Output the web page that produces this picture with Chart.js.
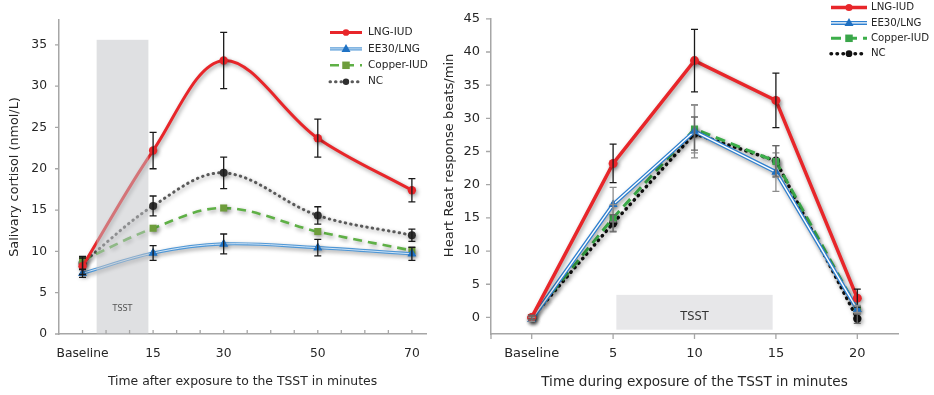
<!DOCTYPE html>
<html>
<head>
<meta charset="utf-8">
<script src="https://cdn.jsdelivr.net/npm/chart.js@4.4.1/dist/chart.umd.min.js"></script>
<style>
  html, body { margin: 0; padding: 0; background: #fff; width: 934px; height: 395px; overflow: hidden; }
  #cortisolBox { position: absolute; left: 0; top: 0; width: 440px; height: 395px; }
  #heartBox { position: absolute; left: 436px; top: 0; width: 498px; height: 395px; }
</style>
</head>
<body>
<div id="cortisolBox"><canvas id="cortisol"></canvas></div>
<div id="heartBox"><canvas id="heart"></canvas></div>
<script>
// ---- Salivary cortisol (nmol/L) after the TSST ----
const cortisolMinutes = [0, 15, 30, 50, 70];
const cortisolTickValues = [0, 5, 10, 15, 20, 25, 30, 35, 40, 45, 50, 55, 60, 65, 70];
const cortisolTickLabels = { 0: 'Baseline', 15: '15', 30: '30', 50: '50', 70: '70' };
const cortisolYTicks = [0, 5, 10, 15, 20, 25, 30, 35];
const cortisolLNG = [8.2, 22.2, 33.1, 23.7, 17.4];
const cortisolLNGErr = [1.0, 2.2, 3.4, 2.3, 1.4];
const cortisolEE30 = [7.35, 9.8, 10.9, 10.45, 9.7];
const cortisolEE30Err = [0.5, 0.9, 1.2, 1.0, 0.8];
const cortisolCopper = [8.9, 12.8, 15.25, 12.4, 10.1];
const cortisolNC = [8.6, 15.5, 19.5, 14.35, 11.95];
const cortisolNCErr = [0.8, 1.2, 1.9, 1.05, 0.75];
const cortisolTSSTMinutes = [3, 14];
const cortisolTSSTLevel = [0, 35.6];

// ---- Heart rate response (beats/min) during the TSST ----
const heartMinutes = [0, 5, 10, 15, 20];
const heartTickLabels = { 0: 'Baseline', 5: '5', 10: '10', 15: '15', 20: '20' };
const heartYTicks = [0, 5, 10, 15, 20, 25, 30, 35, 40, 45];
const heartLNG = [0, 23.2, 38.7, 32.7, 2.9];
const heartLNGErr = [0.3, 2.9, 4.7, 4.1, 1.35];
const heartEE30 = [-0.3, 17.0, 28.05, 21.9, 1.2];
const heartEE30Err = [0.3, 2.6, 4.0, 2.9, 0.6];
const heartCopper = [0, 15.0, 28.4, 23.5, 1.25];
const heartCopperErr = [0.3, 2.0, 3.6, 2.4, 0.5];
const heartNC = [-0.05, 14.2, 27.7, 23.6, -0.2];
const heartNCErr = [0.3, 1.3, 2.5, 2.3, 0.7];
const heartTSSTMinutes = [5.2, 14.8];
const heartTSSTLevel = [-1.85, 3.4];

const FONT = "'DejaVu Sans', sans-serif";
const AXIS = '#a6a6a6';
const TEXT = '#262626';
Chart.defaults.font.family = FONT;
Chart.defaults.color = TEXT;

function points(xs, ys) { return xs.map((x, i) => ({ x, y: ys[i] })); }

function marker(ctx, style, x, y, r) {
  ctx.beginPath();
  if (style === 'triangle') {
    ctx.moveTo(x, y - r); ctx.lineTo(x + r * 0.9, y + r * 0.6); ctx.lineTo(x - r * 0.9, y + r * 0.6); ctx.closePath();
  } else if (style === 'rect') {
    const s = r * 0.75; ctx.rect(x - s, y - s, 2 * s, 2 * s);
  } else {
    ctx.arc(x, y, r * 0.8, 0, Math.PI * 2);
  }
  ctx.fill();
}

function drawBand(chart, b) {
  const { ctx, scales: { x, y } } = chart;
  const x0 = x.getPixelForValue(b.x[0]), x1 = x.getPixelForValue(b.x[1]);
  const y0 = y.getPixelForValue(b.y[1]), y1 = y.getPixelForValue(b.y[0]);
  ctx.save();
  ctx.fillStyle = b.color;
  ctx.fillRect(x0, y0, x1 - x0, y1 - y0);
  ctx.fillStyle = b.labelColor;
  ctx.font = b.font;
  ctx.textAlign = 'center';
  ctx.textBaseline = 'middle';
  ctx.fillText(b.label, (x0 + x1) / 2, y.getPixelForValue(b.labelY));
  ctx.restore();
}

function drawErrorBars(chart, cap) {
  const { ctx, scales: { y } } = chart;
  chart.data.datasets.forEach((ds, i) => {
    if (!ds.errors) return;
    const meta = chart.getDatasetMeta(i);
    ctx.save();
    ctx.strokeStyle = ds.errorColor;
    ctx.lineWidth = 1.3;
    ctx.beginPath();
    meta.data.forEach((pt, j) => {
      const e = ds.errors[j];
      if (!e) return;
      const v = ds.data[j].y;
      const top = y.getPixelForValue(v + e), bot = y.getPixelForValue(v - e);
      ctx.moveTo(pt.x, top); ctx.lineTo(pt.x, bot);
      ctx.moveTo(pt.x - cap, top); ctx.lineTo(pt.x + cap, top);
      ctx.moveTo(pt.x - cap, bot); ctx.lineTo(pt.x + cap, bot);
    });
    ctx.stroke();
    ctx.restore();
  });
}

function drawAxisMarks(chart, o) {
  const { ctx, chartArea: a, scales: { x, y } } = chart;
  ctx.save();
  ctx.strokeStyle = AXIS;
  ctx.lineWidth = 1.3;
  ctx.beginPath();
  x.ticks.forEach(t => { const px = x.getPixelForValue(t.value); ctx.moveTo(px, a.bottom); ctx.lineTo(px, a.bottom + o.xLen); });
  y.ticks.forEach(t => { const py = y.getPixelForValue(t.value); ctx.moveTo(a.left, py); ctx.lineTo(a.left - o.yLen, py); });
  if (o.extendX) { ctx.moveTo(a.left - o.extendX, a.bottom); ctx.lineTo(a.left, a.bottom); }
  if (o.extendY) { ctx.moveTo(a.left, a.bottom); ctx.lineTo(a.left, a.bottom + o.extendY); }
  ctx.stroke();
  ctx.restore();
}

function drawLegend(chart, L) {
  const ctx = chart.ctx;
  chart.data.datasets.forEach((ds, i) => {
    const y = L.top + i * L.step;
    ctx.save();
    ctx.strokeStyle = ds.borderColor;
    ctx.lineWidth = ds.borderWidth;
    ctx.setLineDash(ds.borderDash || []);
    ctx.lineCap = ds.borderCapStyle || 'butt';
    ctx.beginPath(); ctx.moveTo(L.x, y); ctx.lineTo(L.x + L.w, y); ctx.stroke();
    if (ds.doubleLine) {
      ctx.setLineDash([]);
      ctx.strokeStyle = ds.doubleLine.color;
      ctx.lineWidth = ds.doubleLine.width;
      ctx.beginPath(); ctx.moveTo(L.x, y); ctx.lineTo(L.x + L.w, y); ctx.stroke();
    }
    ctx.setLineDash([]);
    ctx.fillStyle = ds.pointBackgroundColor;
    marker(ctx, ds.pointStyle, L.x + L.w / 2, y, ds.pointRadius);
    ctx.fillStyle = TEXT;
    ctx.font = L.font;
    ctx.textAlign = 'left';
    ctx.textBaseline = 'middle';
    ctx.fillText(ds.label, L.textX, y);
    ctx.restore();
  });
}

// Drop shadow under the series, double-stroke lines, band, error bars, tick marks and legend
const decorPlugin = {
  id: 'decor',
  beforeDatasetsDraw(chart, args, o) {
    if (o.band && o.band.behind) drawBand(chart, o.band);
    const ctx = chart.ctx;
    ctx.save();
    ctx.shadowColor = 'rgba(0,0,0,0.38)';
    ctx.shadowBlur = 4;
    ctx.shadowOffsetX = 1.5;
    ctx.shadowOffsetY = 2;
  },
  afterDatasetDraw(chart, args) {
    const ds = chart.data.datasets[args.index];
    if (!ds.doubleLine) return;
    const ctx = chart.ctx, meta = args.meta;
    ctx.save();
    ctx.shadowColor = 'rgba(0,0,0,0)';
    ctx.beginPath();
    meta.dataset.path(ctx);
    ctx.strokeStyle = ds.doubleLine.color;
    ctx.lineWidth = ds.doubleLine.width;
    ctx.lineJoin = 'round';
    ctx.stroke();
    meta.data.forEach(p => p.draw(ctx, chart.chartArea));
    ctx.restore();
  },
  afterDatasetsDraw(chart, args, o) {
    chart.ctx.restore();
    if (o.band && !o.band.behind) drawBand(chart, o.band);
    drawErrorBars(chart, o.cap);
    drawAxisMarks(chart, o.marks);
    drawLegend(chart, o.legend);
    if (o.sideTitle) {
      const ctx = chart.ctx, a = chart.chartArea, t = o.sideTitle;
      ctx.save();
      ctx.translate(t.x, (a.top + a.bottom) / 2 + t.shift);
      ctx.rotate(-Math.PI / 2);
      ctx.font = t.font;
      ctx.fillStyle = TEXT;
      ctx.textAlign = 'center';
      ctx.textBaseline = 'middle';
      ctx.fillText(t.text, 0, 0);
      ctx.restore();
    }
  }
};

function baseScales(cfg) {
  return {
    x: {
      type: 'linear', min: cfg.xMin, max: cfg.xMax,
      afterBuildTicks: s => { s.ticks = cfg.xTicks.map(v => ({ value: v })); },
      afterFit: s => { s.height = cfg.xHeight; },
      grid: { display: false, drawTicks: false },
      border: { display: true, color: AXIS, width: 1.5 },
      ticks: { autoSkip: false, maxRotation: 0, padding: cfg.xPad, font: { size: cfg.tickSize }, color: TEXT,
               callback: v => cfg.xLabels[v] ?? '' },
      title: { display: true, text: cfg.xTitle, font: { size: cfg.xTitleSize }, color: TEXT, padding: { top: 0, bottom: cfg.xTitlePad } }
    },
    y: {
      min: cfg.yMin, max: cfg.yMax,
      afterBuildTicks: s => { s.ticks = cfg.yTicks.map(v => ({ value: v })); },
      afterFit: s => { s.width = cfg.yWidth; },
      grid: { display: false, drawTicks: false },
      border: { display: true, color: AXIS, width: 1.5 },
      ticks: { padding: cfg.yPad, font: { size: cfg.tickSize }, color: TEXT },
      title: cfg.yTitle ? { display: true, text: cfg.yTitle, font: { size: cfg.yTitleSize }, color: TEXT, padding: { top: cfg.yTitlePad, bottom: 0 } } : { display: false }
    }
  };
}

new Chart(document.getElementById('cortisol'), {
  type: 'line',
  data: {
    datasets: [
      { label: 'LNG-IUD', data: points(cortisolMinutes, cortisolLNG), errors: cortisolLNGErr, errorColor: '#1a1a1a',
        borderColor: '#e8262a', borderWidth: 3, pointStyle: 'circle', pointRadius: 4.2,
        pointBackgroundColor: '#e8262a', pointBorderColor: '#e8262a', pointBorderWidth: 0 },
      { label: 'EE30/LNG', data: points(cortisolMinutes, cortisolEE30), errors: cortisolEE30Err, errorColor: '#1a1a1a',
        borderColor: '#4f97d6', borderWidth: 3.2, doubleLine: { color: 'rgba(255,255,255,0.75)', width: 1 },
        pointStyle: 'triangle', pointRadius: 5, pointBackgroundColor: '#1f72c4', pointBorderColor: '#1f72c4', pointBorderWidth: 0 },
      { label: 'Copper-IUD', data: points(cortisolMinutes, cortisolCopper),
        borderColor: '#5fb046', borderWidth: 2.6, borderDash: [9, 6], pointStyle: 'rect', pointRadius: 5,
        pointBackgroundColor: '#6e9d3c', pointBorderColor: '#6e9d3c', pointBorderWidth: 0 },
      { label: 'NC', data: points(cortisolMinutes, cortisolNC), errors: cortisolNCErr, errorColor: '#1a1a1a',
        borderColor: '#5a5a5a', borderWidth: 3, borderDash: [0.5, 5], borderCapStyle: 'round', pointStyle: 'circle', pointRadius: 4,
        pointBackgroundColor: '#2e2e2e', pointBorderColor: '#2e2e2e', pointBorderWidth: 0 }
    ]
  },
  options: {
    responsive: true, maintainAspectRatio: false, animation: false,
    layout: { padding: { left: 0, right: 14, top: 20, bottom: 0 } },
    elements: { line: { tension: 0.35 } },
    plugins: {
      legend: { display: false }, tooltip: { enabled: false },
      decor: {
        cap: 3.5,
        band: { x: cortisolTSSTMinutes, y: cortisolTSSTLevel, color: 'rgba(192,193,198,0.5)', behind: false,
                label: 'TSST', labelY: 3, font: "8px " + FONT, labelColor: '#555' },
        marks: { xLen: -4, yLen: 4, extendX: 4 },
        legend: { x: 330, w: 32, textX: 368, top: 32.5, step: 16.4, font: "10.5px " + FONT }
      }
    },
    scales: baseScales({
      xMin: -5, xMax: 73, xTicks: cortisolTickValues, xLabels: cortisolTickLabels, xHeight: 61, xPad: 12,
      tickSize: 12.3, xTitle: 'Time after exposure to the TSST in minutes', xTitleSize: 12.4, xTitlePad: 6,
      yMin: 0, yMax: 38, yTicks: cortisolYTicks, yWidth: 59, yPad: 12,
      yTitle: 'Salivary cortisol (nmol/L)', yTitleSize: 12.8, yTitlePad: 7
    })
  },
  plugins: [decorPlugin]
});

new Chart(document.getElementById('heart'), {
  type: 'line',
  data: {
    datasets: [
      { label: 'LNG-IUD', data: points(heartMinutes, heartLNG), errors: heartLNGErr, errorColor: '#1a1a1a',
        borderColor: '#e8262a', borderWidth: 3.5, pointStyle: 'circle', pointRadius: 4.5,
        pointBackgroundColor: '#e8262a', pointBorderColor: '#e8262a', pointBorderWidth: 0 },
      { label: 'EE30/LNG', data: points(heartMinutes, heartEE30), errors: heartEE30Err, errorColor: '#8c8c8c',
        borderColor: '#2f80d0', borderWidth: 4, doubleLine: { color: '#ffffff', width: 1.4 },
        pointStyle: 'triangle', pointRadius: 5, pointBackgroundColor: '#1f6fc0', pointBorderColor: '#1f6fc0', pointBorderWidth: 0 },
      { label: 'Copper-IUD', data: points(heartMinutes, heartCopper), errors: heartCopperErr, errorColor: '#8c8c8c',
        borderColor: '#3cae4a', borderWidth: 3, borderDash: [10, 6], pointStyle: 'rect', pointRadius: 5,
        pointBackgroundColor: '#3aa54a', pointBorderColor: '#3aa54a', pointBorderWidth: 0 },
      { label: 'NC', data: points(heartMinutes, heartNC), errors: heartNCErr, errorColor: '#666666',
        borderColor: '#111111', borderWidth: 3.5, borderDash: [0.5, 5.5], borderCapStyle: 'round', pointStyle: 'circle', pointRadius: 4.2,
        pointBackgroundColor: '#111111', pointBorderColor: '#111111', pointBorderWidth: 0 }
    ]
  },
  options: {
    responsive: true, maintainAspectRatio: false, animation: false,
    layout: { padding: { left: 0, right: 36, top: 16, bottom: 0 } },
    elements: { line: { tension: 0 } },
    plugins: {
      legend: { display: false }, tooltip: { enabled: false },
      decor: {
        cap: 3.5,
        band: { x: heartTSSTMinutes, y: heartTSSTLevel, color: '#e7e7e9', behind: true,
                label: 'TSST', labelY: 0, font: "11.4px " + FONT, labelColor: '#333' },
        marks: { xLen: 5, yLen: 5, extendY: 5 },
        legend: { x: 395, w: 36, textX: 435, top: 7.5, step: 15.4, font: "10.2px " + FONT },
        sideTitle: { text: 'Heart Reat response beats/min', x: 14, shift: -21, font: "13.1px " + FONT }
      }
    },
    scales: baseScales({
      xMin: -2.5, xMax: 22.5, xTicks: heartMinutes, xLabels: heartTickLabels, xHeight: 61, xPad: 12,
      tickSize: 13, xTitle: 'Time during exposure of the TSST in minutes', xTitleSize: 13.6, xTitlePad: 4,
      yMin: -2.5, yMax: 45, yTicks: heartYTicks, yWidth: 55, yPad: 11,
      yTitle: null
    })
  },
  plugins: [decorPlugin]
});
</script>
</body>
</html>
